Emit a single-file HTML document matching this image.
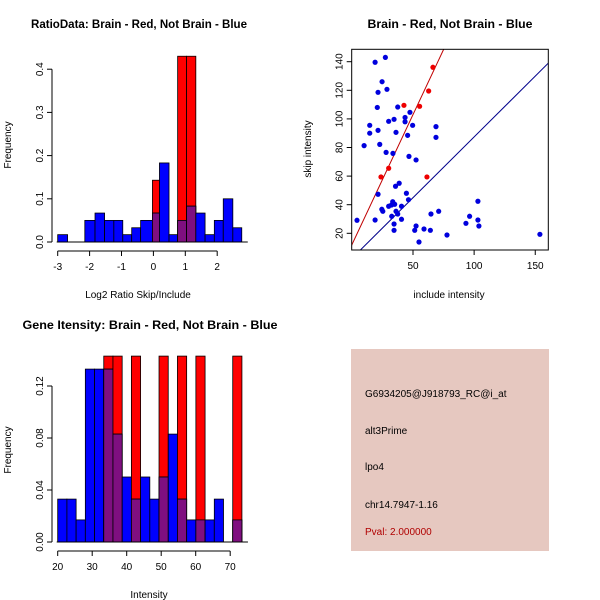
<!DOCTYPE html>
<html><head><meta charset="utf-8"><style>
body{margin:0;background:#fff}
svg{display:block;font-family:"Liberation Sans",sans-serif}
</style></head><body>
<svg id="c" width="600" height="600" viewBox="0 0 600 600">
<rect width="600" height="600" fill="#fff"/>
<text x="139" y="28" font-size="12" font-weight="bold" text-anchor="middle" textLength="216" lengthAdjust="spacingAndGlyphs">RatioData: Brain - Red, Not Brain - Blue</text>
<text x="450" y="28" font-size="12" font-weight="bold" text-anchor="middle" textLength="165" lengthAdjust="spacingAndGlyphs">Brain - Red, Not Brain - Blue</text>
<text x="150" y="329" font-size="12" font-weight="bold" text-anchor="middle" textLength="255" lengthAdjust="spacingAndGlyphs">Gene Itensity: Brain - Red, Not Brain - Blue</text>
<text x="138" y="298" font-size="10" text-anchor="middle">Log2 Ratio Skip/Include</text>
<text x="11" y="145" font-size="10" text-anchor="middle" transform="rotate(-90 11 145)">Frequency</text>
<text x="449" y="298" font-size="10" text-anchor="middle">include intensity</text>
<text x="311" y="149" font-size="10" text-anchor="middle" transform="rotate(-90 311 149)">skip intensity</text>
<text x="149" y="598" font-size="10" text-anchor="middle">Intensity</text>
<text x="11" y="450" font-size="10" text-anchor="middle" transform="rotate(-90 11 450)">Frequency</text>
<g>
<rect x="351" y="349" width="198" height="202" fill="#e6c8c0"/>
<text x="365" y="397" font-size="10">G6934205@J918793_RC@i_at</text>
<text x="365" y="434" font-size="10">alt3Prime</text>
<text x="365" y="470" font-size="10">lpo4</text>
<text x="365" y="508" font-size="10">chr14.7947-1.16</text>
<text x="365" y="535" font-size="10" fill="#b00000">Pval: 2.000000</text>
</g>
<g id="g1"></g><g id="g2"></g><g id="g3"></g>
</svg>
<script>
// Ratio histogram data
const ratioBreaks=[-3,-2.69,-2.42,-2.15,-1.83,-1.53,-1.24,-0.96,-0.68,-0.40,-0.03,0.19,0.49,0.76,1.04,1.33,1.62,1.91,2.19,2.49,2.77];
const ratioBlue=[0.017,0,0,0.05,0.067,0.05,0.05,0.017,0.033,0.05,0.067,0.183,0.017,0.05,0.083,0.067,0.017,0.05,0.1,0.033];
const ratioRed=[0,0,0,0,0,0,0,0,0,0,0.143,0,0,0.43,0.43,0,0,0,0,0];
const ratioXTicks=[-3,-2,-1,0,1,2];
const ratioYTicks=[0,0.1,0.2,0.3,0.4];
const ratioYLabels=["0.0","0.1","0.2","0.3","0.4"];
// Intensity histogram data
const intBreaks=[20,22.67,25.34,28.01,30.68,33.35,36.02,38.69,41.36,44.03,46.7,49.37,52.04,54.71,57.38,60.05,62.72,65.39,68.06,70.73,73.4];
const intBlue=[0.033,0.033,0.017,0.133,0.133,0.133,0.083,0.05,0.033,0.05,0.033,0.05,0.083,0.033,0.017,0.017,0.017,0.033,0,0.017];
const intRed=[0,0,0,0,0,0.143,0.143,0,0.143,0,0,0.143,0,0.143,0,0.143,0,0,0,0.143];
const intXTicks=[20,30,40,50,60,70];
const intYTicks=[0,0.04,0.08,0.12];
const intYLabels=["0.00","0.04","0.08","0.12"];
// Scatter data
const blueX=[4.2,19,27.4,24.7,21.4,28.7,20.8,14.6,14.6,21.4,10,22.8,30.1,34.5,37.5,36.1,28,33.6,43.5,43.5,47.5,49.7,45.6,46.7,52.5,68.8,68.8,21.4,35.7,38.7,44.6,46.3,40.6,33.4,35,30.1,32.4,24.5,25.3,36.1,37.5,32.6,40.6,34.5,34.5,19,52.5,51.4,54.9,59,64.2,64.7,71,77.8,93.3,96.3,103.1,103.1,103.9,153.8];
const blueY=[29.1,139.6,143,126,118.6,120.7,108,95.5,90,92,81.3,82.2,98.3,99.7,108.3,90.6,76.6,75.9,101,98,104.6,95.5,88.5,73.8,71.3,94.6,87.1,47.3,52.9,55,48,43.5,38.9,42.1,40.3,38.9,39.8,36.8,35.4,35.4,33.5,31.9,29.8,26.5,22.1,29.3,25.1,22.1,13.9,23,22.1,33.5,35.4,18.8,27,31.9,42.4,29.3,25.1,19.3];
const redX=[23.8,30.1,42.6,55.4,62.8,66.3,61.4];
const redY=[59.4,65.5,109.5,108.8,119.5,136.1,59.4];
const lineIntercepts=[12,2.4];
const lineSlopes=[1.82,0.85];
const lineColors=["#c00000","#00008b"];
const scXTicks=[50,100,150];
const scYTicks=[20,40,60,80,100,120,140];

const NS="http://www.w3.org/2000/svg";
function mk(p,t,a){const e=document.createElementNS(NS,t);for(const k in a)e.setAttribute(k,a[k]);p.appendChild(e);return e;}

function hist(g,breaks,blue,red,sx,sy,xt,yt,yl,axY,axX){
  for(let i=0;i<blue.length;i++){
    const x0=sx(breaks[i]),x1=sx(breaks[i+1]);
    if(red[i]>0){const r=mk(g,'rect',{x:x0,y:sy(red[i]),width:x1-x0,height:sy(0)-sy(red[i]),fill:'#ff0000',stroke:'#000','stroke-width':0.8});
      
      }
    if(blue[i]>0){const b=mk(g,'rect',{x:x0,y:sy(blue[i]),width:x1-x0,height:sy(0)-sy(blue[i]),fill:'#0000ff',stroke:'#000','stroke-width':0.8});
      
      }
    if(red[i]>0&&blue[i]>0){const m=Math.min(red[i],blue[i]);const p=mk(g,'rect',{x:x0,y:sy(m),width:x1-x0,height:sy(0)-sy(m),fill:'#7f0f80',stroke:'#000','stroke-width':0.8});
      
      }
  }
  mk(g,'line',{x1:sx(breaks[0])-1,x2:sx(breaks[breaks.length-1])+6,y1:sy(0),y2:sy(0),stroke:'#000'});
  mk(g,'line',{x1:axY,x2:axY,y1:sy(yt[0]),y2:sy(yt[yt.length-1]),stroke:'#000'});
  yt.forEach((v,i)=>{mk(g,'line',{x1:axY-5,x2:axY,y1:sy(v),y2:sy(v),stroke:'#000'});
    const t=mk(g,'text',{x:axY-9,y:sy(v),'font-size':10,'text-anchor':'middle',transform:`rotate(-90 ${axY-9} ${sy(v)})`});t.textContent=yl[i];
    
    });
  mk(g,'line',{x1:sx(xt[0]),x2:sx(xt[xt.length-1]),y1:axX,y2:axX,stroke:'#000'});
  xt.forEach(v=>{mk(g,'line',{x1:sx(v),x2:sx(v),y1:axX,y2:axX+5,stroke:'#000'});
    const t=mk(g,'text',{x:sx(v),y:axX+19,'font-size':10,'text-anchor':'middle'});t.textContent=v;
    
    });
}
hist(document.getElementById('g1'),ratioBreaks,ratioBlue,ratioRed,
  v=>57.7+(v+3)*31.9, v=>242-v*432, ratioXTicks,ratioYTicks,ratioYLabels,52,251);
hist(document.getElementById('g3'),intBreaks,intBlue,intRed,
  v=>57.7+(v-20)*3.45, v=>542-v*1300, intXTicks,intYTicks,intYLabels,52,551);
(function(){
  const g=document.getElementById('g2');
  const L=351.7,R=548.3,T=49.3,B=250;
  const sx=v=>413+(v-50)*1.2225, sy=v=>233.3-(v-20)*1.43;
  const cp=mk(g,'clipPath',{id:'scclip'});mk(cp,'rect',{x:L,y:T,width:R-L,height:B-T});
  const lg=mk(g,'g',{'clip-path':'url(#scclip)'});
  lineIntercepts.forEach((a,i)=>{const x0=-20,x1=200;
    const l=mk(lg,'line',{x1:sx(x0),y1:sy(a+lineSlopes[i]*x0),x2:sx(x1),y2:sy(a+lineSlopes[i]*x1),stroke:lineColors[i],'stroke-width':1});
    
    });
  blueX.forEach((x,i)=>{const c=mk(lg,'circle',{cx:sx(x),cy:sy(blueY[i]),r:2.6,fill:'#0000dd'});
    
    });
  redX.forEach((x,i)=>{const c=mk(lg,'circle',{cx:sx(x),cy:sy(redY[i]),r:2.6,fill:'#ee0000'});
    
    });
  mk(g,'rect',{x:L,y:T,width:R-L,height:B-T,fill:'none',stroke:'#000'});
  scXTicks.forEach(v=>{mk(g,'line',{x1:sx(v),x2:sx(v),y1:B,y2:B+5,stroke:'#000'});
    const t=mk(g,'text',{x:sx(v),y:B+19,'font-size':10,'text-anchor':'middle'});t.textContent=v;
    
    });
  scYTicks.forEach(v=>{mk(g,'line',{x1:L-5,x2:L,y1:sy(v),y2:sy(v),stroke:'#000'});
    const t=mk(g,'text',{x:L-9,y:sy(v),'font-size':10,'text-anchor':'middle',transform:`rotate(-90 ${L-9} ${sy(v)})`});t.textContent=v;
    
    });
})();
</script>
</body></html>
